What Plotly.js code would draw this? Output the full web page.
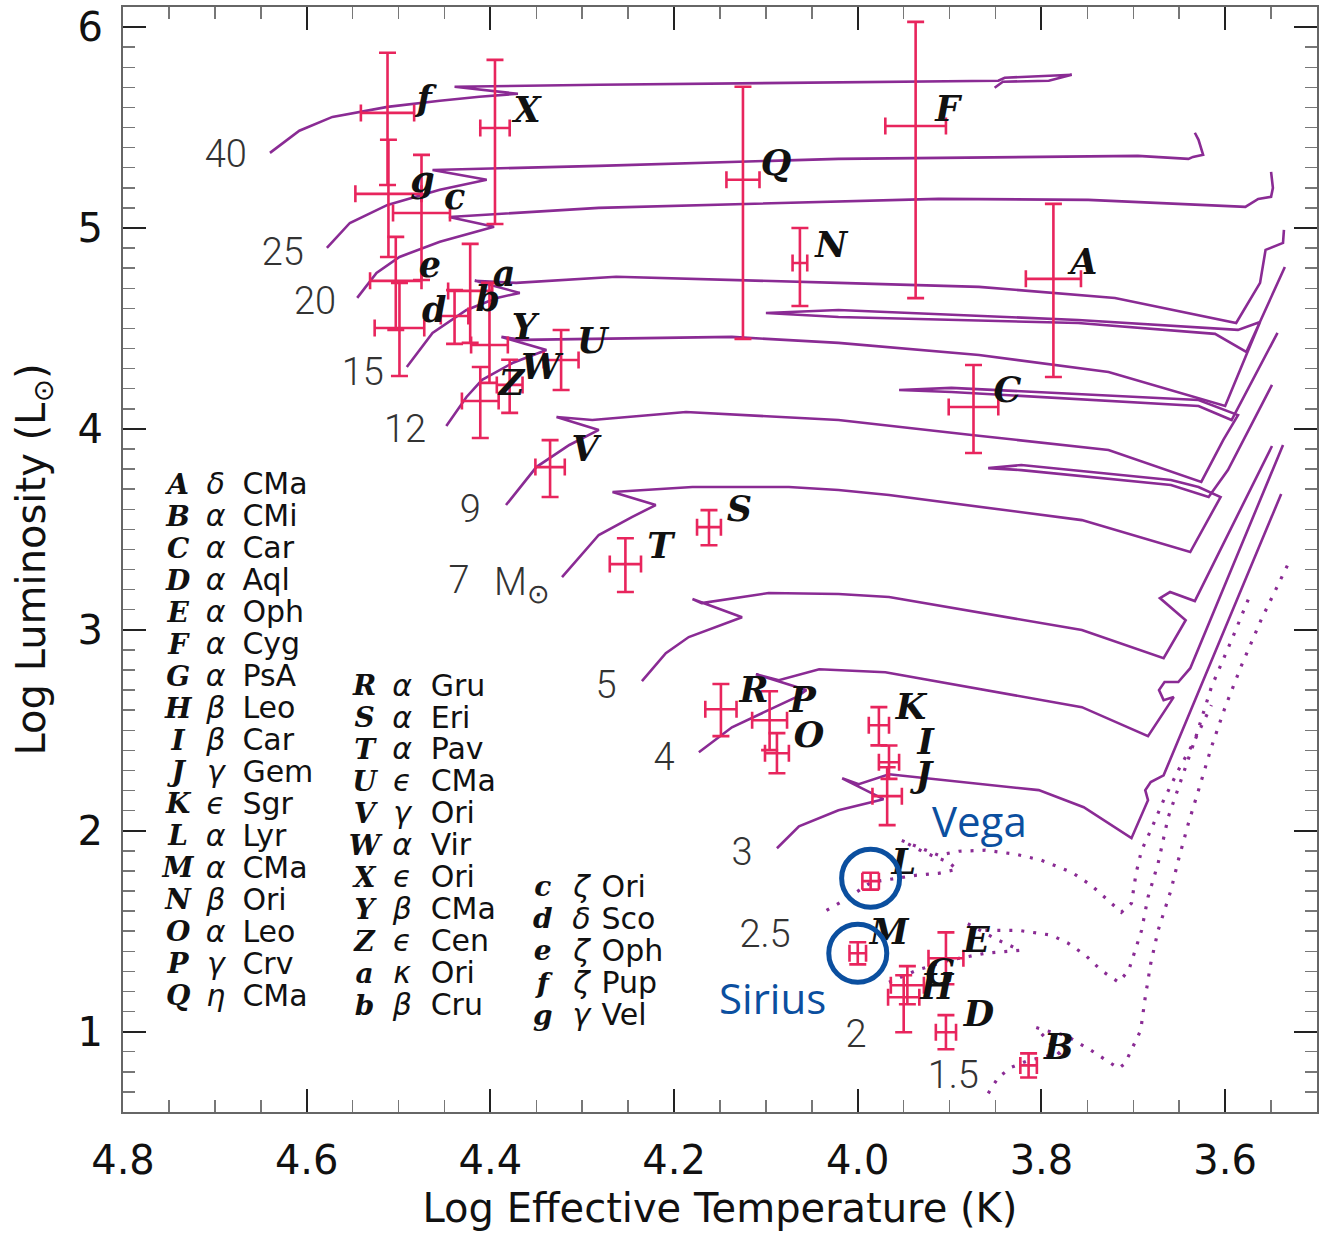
<!DOCTYPE html>
<html>
<head>
<meta charset="utf-8">
<script src="https://cdn.plot.ly/plotly-3.0.1.min.js"></script>
<style>html,body{margin:0;padding:0;background:#fff}</style>
</head>
<body>
<div id="hr" style="width:1320px;height:1242px"></div>
<script>
// ---- Evolutionary tracks (log Teff, log L/Lsun) ----
const teff40 = [4.640,4.608,4.572,4.512,4.455,4.412,4.370,4.439,4.282,4.021,3.847,3.840,3.767,3.792,3.842,3.851];
const lum40  = [5.374,5.484,5.553,5.603,5.633,5.653,5.668,5.703,5.713,5.723,5.733,5.748,5.763,5.733,5.728,5.698];
const teff25 = [4.578,4.553,4.512,4.455,4.404,4.463,4.282,4.021,3.695,3.640,3.635,3.624,3.629,3.633];
const lum25  = [4.901,5.025,5.115,5.190,5.240,5.289,5.309,5.344,5.359,5.344,5.354,5.364,5.439,5.474];
const teff20 = [4.545,4.524,4.499,4.455,4.396,4.445,4.282,4.021,3.912,3.749,3.578,3.564,3.550,3.548,3.550];
const lum20  = [4.652,4.776,4.856,4.931,5.006,5.055,5.100,5.130,5.145,5.140,5.105,5.145,5.155,5.200,5.279];
const teff15 = [4.491,4.463,4.426,4.393,4.368,4.417,4.372,4.263,4.021,3.868,3.720,3.588,3.562,3.556,3.537,3.536];
const lum15  = [4.308,4.478,4.592,4.652,4.677,4.737,4.727,4.757,4.727,4.707,4.652,4.527,4.727,4.891,4.926,4.991];
const teff12 = [4.448,4.426,4.409,4.376,4.339,4.388,4.365,4.137,4.021,3.868,3.727,3.600,3.577,3.562,3.586,3.760,4.021,4.100,4.021,3.760,3.611,3.577,3.535];
const lum12  = [4.014,4.159,4.244,4.328,4.393,4.458,4.443,4.458,4.428,4.368,4.283,4.114,4.368,4.532,4.493,4.542,4.592,4.577,4.557,4.527,4.473,4.383,4.806];
const teff9  = [4.383,4.350,4.314,4.282,4.328,4.289,4.187,4.021,3.876,3.727,3.626,3.602,3.586,3.629,3.898,3.955,3.898,3.629,3.593,3.543];
const lum9   = [3.621,3.810,3.920,3.995,4.059,4.044,4.084,4.044,3.970,3.895,3.736,3.945,4.069,4.144,4.204,4.194,4.184,4.114,4.044,4.478];
const teff7  = [4.322,4.282,4.246,4.220,4.267,4.180,4.075,4.021,3.966,3.756,3.638,3.605,3.629,3.659,3.822,3.858,3.822,3.659,3.618,3.597,3.549];
const lum7   = [3.262,3.472,3.561,3.621,3.686,3.711,3.711,3.696,3.671,3.546,3.387,3.661,3.711,3.746,3.820,3.805,3.795,3.721,3.661,3.795,4.219];
const teff5  = [4.235,4.209,4.184,4.126,4.180,4.170,4.097,4.021,3.966,3.756,3.667,3.643,3.671,3.660,3.633,3.549];
const lum5   = [2.745,2.884,2.964,3.063,3.153,3.133,3.183,3.178,3.163,2.999,2.859,3.048,3.158,3.188,3.143,3.915];
const teff4  = [4.173,4.137,4.067,4.056,4.111,4.086,4.042,3.970,3.756,3.684,3.656,3.667,3.672,3.666,3.651,3.638,3.537];
const lum4   = [2.391,2.515,2.665,2.700,2.779,2.749,2.804,2.789,2.615,2.471,2.665,2.650,2.700,2.740,2.740,2.809,3.920];
const teff3  = [4.088,4.064,4.021,3.972,4.017,3.999,3.966,3.803,3.754,3.702,3.684,3.687,3.681,3.667,3.539];
const lum3   = [1.913,2.022,2.102,2.157,2.261,2.232,2.281,2.202,2.117,1.963,2.152,2.202,2.242,2.276,3.676];
// low-mass tracks, drawn dotted
const teff2p5 = [4.034,4.015,3.985,3.959,3.937,3.912,3.892,3.901,3.928,3.953,3.912,3.890,3.861,3.828,3.800,3.767,3.746,3.730,3.713,3.702,3.697,3.691,3.681,3.667,3.651,3.633,3.615];
const lum2p5  = [1.604,1.654,1.744,1.763,1.778,1.788,1.808,1.843,1.893,1.953,1.878,1.898,1.903,1.883,1.853,1.793,1.729,1.664,1.594,1.639,1.788,1.903,2.002,2.152,2.301,2.451,2.625];
const teff2   = [3.966,3.936,3.901,3.861,3.823,3.847,3.881,3.868,3.825,3.789,3.771,3.752,3.735,3.716,3.705,3.691,3.684,3.673,3.662,3.651,3.633,3.615,3.593,3.572];
const lum2    = [1.246,1.305,1.355,1.390,1.405,1.455,1.539,1.504,1.504,1.480,1.440,1.380,1.305,1.246,1.305,1.504,1.669,1.838,2.067,2.217,2.451,2.715,2.949,3.183];
const teff1p5 = [3.858,3.847,3.833,3.814,3.781,3.806,3.796,3.774,3.746,3.730,3.716,3.709,3.692,3.687,3.681,3.673,3.659,3.651,3.640,3.629,3.615,3.600,3.583,3.561,3.542,3.531];
const lum1p5  = [0.693,0.772,0.822,0.857,0.892,1.021,1.006,0.982,0.907,0.857,0.817,0.842,1.006,1.171,1.340,1.504,1.704,1.853,2.037,2.202,2.416,2.615,2.814,3.048,3.233,3.332];

// ---- Stars with error bars ----
const starIds  = ['A','B','C','D','E','F','G','H','I','J','K','L','M','N','O','P','Q','R','S','T','U','V','W','X','Y','Z','a','b','c','d','e','f','g'];
const starTeff = [3.787,3.814,3.874,3.904,3.904,3.937,3.946,3.950,3.966,3.968,3.977,3.986,4.000,4.063,4.088,4.096,4.125,4.149,4.162,4.253,4.323,4.335,4.379,4.395,4.401,4.411,4.422,4.439,4.475,4.499,4.503,4.512,4.511];
const starTeffErr = [0.030,0.009,0.027,0.011,0.019,0.033,0.018,0.017,0.011,0.016,0.011,0.009,0.009,0.008,0.013,0.019,0.018,0.017,0.013,0.017,0.019,0.016,0.014,0.016,0.020,0.020,0.024,0.015,0.031,0.027,0.028,0.029,0.036];
const starLum  = [4.747,0.832,4.109,0.997,1.365,5.508,1.231,1.171,2.341,2.172,2.525,1.749,1.390,4.826,2.386,2.550,5.240,2.605,3.511,3.327,4.343,3.810,4.219,5.498,4.418,4.139,4.687,4.562,5.075,4.502,4.737,5.573,5.170];
const starLumUp   = [0.373,0.060,0.209,0.085,0.129,0.518,0.095,0.110,0.083,0.144,0.090,0.042,0.055,0.174,0.100,0.144,0.463,0.125,0.085,0.129,0.149,0.134,0.125,0.339,0.309,0.169,0.234,0.129,0.289,0.224,0.219,0.299,0.269];
const starLumDown = [0.489,0.060,0.229,0.085,0.129,0.857,0.095,0.174,0.083,0.144,0.100,0.042,0.055,0.214,0.100,0.149,0.792,0.134,0.090,0.139,0.149,0.149,0.139,0.478,0.189,0.184,0.259,0.139,0.334,0.239,0.244,0.359,0.314];
// where each star's letter is written
const labelTeff = [3.754,3.781,3.837,3.868,3.871,3.902,3.910,3.914,3.926,3.928,3.942,3.950,3.966,4.029,4.053,4.060,4.089,4.113,4.129,4.215,4.289,4.297,4.345,4.360,4.363,4.377,4.385,4.403,4.439,4.461,4.466,4.472,4.474];
const labelLum  = [4.816,0.907,4.179,1.071,1.440,5.578,1.280,1.206,2.426,2.261,2.600,1.828,1.480,4.901,2.461,2.635,5.309,2.685,3.586,3.402,4.423,3.885,4.293,5.573,4.493,4.214,4.756,4.632,5.140,4.577,4.801,5.628,5.225];

// ---- Track mass labels ----
const massText = ['40','25','20','15','12','9','7','5','4','3','2.5','2','1.5'];
const massTeff = [4.688,4.626,4.591,4.539,4.493,4.422,4.434,4.274,4.211,4.126,4.101,4.002,3.896];
const massLum  = [5.349,4.861,4.617,4.268,3.984,3.586,3.233,2.710,2.351,1.878,1.470,0.972,0.767];

// ---- Star identification table ----
const keyCol1   = ['A','B','C','D','E','F','G','H','I','J','K','L','M','N','O','P','Q'];
const greekCol1 = ['δ','α','α','α','α','α','α','β','β','γ','ϵ','α','α','β','α','γ','η'];
const nameCol1  = ['CMa','CMi','Car','Aql','Oph','Cyg','PsA','Leo','Car','Gem','Sgr','Lyr','CMa','Ori','Leo','Crv','CMa'];
const keyCol2   = ['R','S','T','U','V','W','X','Y','Z','a','b'];
const greekCol2 = ['α','α','α','ϵ','γ','α','ϵ','β','ϵ','κ','β'];
const nameCol2  = ['Gru','Eri','Pav','CMa','Ori','Vir','Ori','CMa','Cen','Ori','Cru'];
const keyCol3   = ['c','d','e','f','g'];
const greekCol3 = ['ζ','δ','ζ','ζ','γ'];
const nameCol3  = ['Ori','Sco','Oph','Pup','Vel'];

// ---- Styling ----
const trackColor = '#8a2b94';
const errColor = '#e8255d';
const blue = '#0b4f9f';
const xRange = [4.8, 3.5], yRange = [0.6, 6.1];
const W = 1320, H = 1242;
const margin = {l:123, r:3, t:7, b:130, pad:0};
const plotW = W - margin.l - margin.r, plotH = H - margin.t - margin.b;
const teffPerPx = (xRange[0]-xRange[1]) / plotW;
const lumPerPx = (yRange[1]-yRange[0]) / plotH;

const traces = [];

function solid(x, y) {
  traces.push({x, y, type:'scatter', mode:'lines', line:{color:trackColor, width:2.6, shape:'linear'},
    hoverinfo:'skip', showlegend:false});
}
function dotted(x, y) {
  traces.push({x, y, type:'scatter', mode:'lines', line:{color:trackColor, width:3.2, dash:'3px,9px'},
    hoverinfo:'skip', showlegend:false});
}
solid(teff40, lum40); solid(teff25, lum25); solid(teff20, lum20); solid(teff15, lum15);
solid(teff12, lum12); solid(teff9, lum9); solid(teff7, lum7); solid(teff5, lum5);
solid(teff4, lum4); solid(teff3, lum3);
dotted(teff2p5, lum2p5); dotted(teff2, lum2); dotted(teff1p5, lum1p5);

// error crosses
traces.push({
  x: starTeff, y: starLum, type:'scatter', mode:'markers',
  marker:{size:1, color:'rgba(0,0,0,0)'},
  error_x:{type:'data', array:starTeffErr, symmetric:true, color:errColor, thickness:2.6, width:8.5},
  error_y:{type:'data', symmetric:false, array:starLumUp, arrayminus:starLumDown, color:errColor, thickness:2.6, width:8.5},
  hoverinfo:'skip', showlegend:false
});

// star letters
traces.push({
  x: labelTeff, y: labelLum, text: starIds, type:'scatter', mode:'text', textposition:'middle center',
  textfont:{family:'DejaVu Serif', size:35, color:'#111', weight:'bold', style:'italic'},
  hoverinfo:'skip', showlegend:false, cliponaxis:false
});

// mass labels
traces.push({
  x: massTeff, y: massLum, text: massText, type:'scatter', mode:'text', textposition:'middle center',
  textfont:{family:'Roboto', size:38, color:'#333', weight:300},
  hoverinfo:'skip', showlegend:false
});

// identification table columns
function tableColumn(keys, greeks, names, xKey, xGreek, xName, yTop, dy) {
  const ys = keys.map((_, i) => yTop - i*dy);
  traces.push({x: keys.map(() => xKey), y: ys, text: keys, type:'scatter', mode:'text', textposition:'middle center',
    textfont:{family:'DejaVu Serif', size:28, color:'#111', weight:'bold', style:'italic'}, hoverinfo:'skip', showlegend:false});
  traces.push({x: keys.map(() => xGreek), y: ys, text: greeks, type:'scatter', mode:'text', textposition:'middle center',
    textfont:{family:'DejaVu Sans', size:30, color:'#111', style:'italic'}, hoverinfo:'skip', showlegend:false});
  traces.push({x: keys.map(() => xName), y: ys, text: names, type:'scatter', mode:'text', textposition:'middle right',
    textfont:{family:'DejaVu Sans', size:30, color:'#111'}, hoverinfo:'skip', showlegend:false});
}
tableColumn(keyCol1, greekCol1, nameCol1, 4.740, 4.699, 4.670, 3.711, 0.159);
tableColumn(keyCol2, greekCol2, nameCol2, 4.537, 4.496, 4.465, 2.710, 0.159);
tableColumn(keyCol3, greekCol3, nameCol3, 4.343, 4.301, 4.279, 1.709, 0.160);

// circles around Vega (L) and Sirius (M)
const ringR = 29;
const shapes = ['L','M'].map(id => {
  const i = starIds.indexOf(id);
  const cx = starTeff[i], cy = starLum[i] + (id === 'L' ? 0.015 : 0);
  return {type:'circle', xref:'x', yref:'y', layer:'above',
    x0: cx + ringR*teffPerPx, x1: cx - ringR*teffPerPx,
    y0: cy - ringR*lumPerPx, y1: cy + ringR*lumPerPx,
    line:{color:blue, width:5}};
});

const annotations = [
  {x:4.366, y:3.228, xref:'x', yref:'y', text:'M<sub>⊙</sub>', showarrow:false,
   font:{family:'Roboto', size:38, color:'#333', weight:300}},
  {x:3.868, y:2.052, xref:'x', yref:'y', text:'Vega', showarrow:false,
   font:{family:'Open Sans', size:42, color:blue}},
  {x:4.093, y:1.171, xref:'x', yref:'y', text:'Sirius', showarrow:false,
   font:{family:'Open Sans', size:42, color:blue}}
];

const axisFont = {family:'DejaVu Sans', size:40, color:'#111'};
const layout = {
  width: W, height: H, margin,
  paper_bgcolor:'#fff', plot_bgcolor:'#fff',
  showlegend:false,
  xaxis:{
    range:xRange, autorange:false, showgrid:false, zeroline:false,
    showline:true, linecolor:'#666', linewidth:2, mirror:'ticks',
    ticks:'inside', ticklen:23, tickwidth:2, tickcolor:'#222',
    tick0:0, dtick:0.2, tickformat:'.1f', tickfont:axisFont, ticklabelstandoff:12,
    minor:{dtick:0.05, ticks:'inside', ticklen:12, tickwidth:1.5, tickcolor:'#777'},
    title:{text:'Log Effective Temperature (K)', font:axisFont, standoff:12}
  },
  yaxis:{
    range:yRange, autorange:false, showgrid:false, zeroline:false,
    showline:true, linecolor:'#666', linewidth:2, mirror:'ticks',
    ticks:'inside', ticklen:23, tickwidth:2, tickcolor:'#222',
    tick0:0, dtick:1, tickfont:axisFont, ticklabelstandoff:10,
    minor:{dtick:0.1, ticks:'inside', ticklen:12, tickwidth:1.5, tickcolor:'#777'},
    title:{text:'Log Luminosity (L<sub>⊙</sub>)', font:axisFont, standoff:20}
  },
  shapes, annotations
};

Plotly.newPlot('hr', traces, layout, {displayModeBar:false, staticPlot:true});
</script>
</body>
</html>
